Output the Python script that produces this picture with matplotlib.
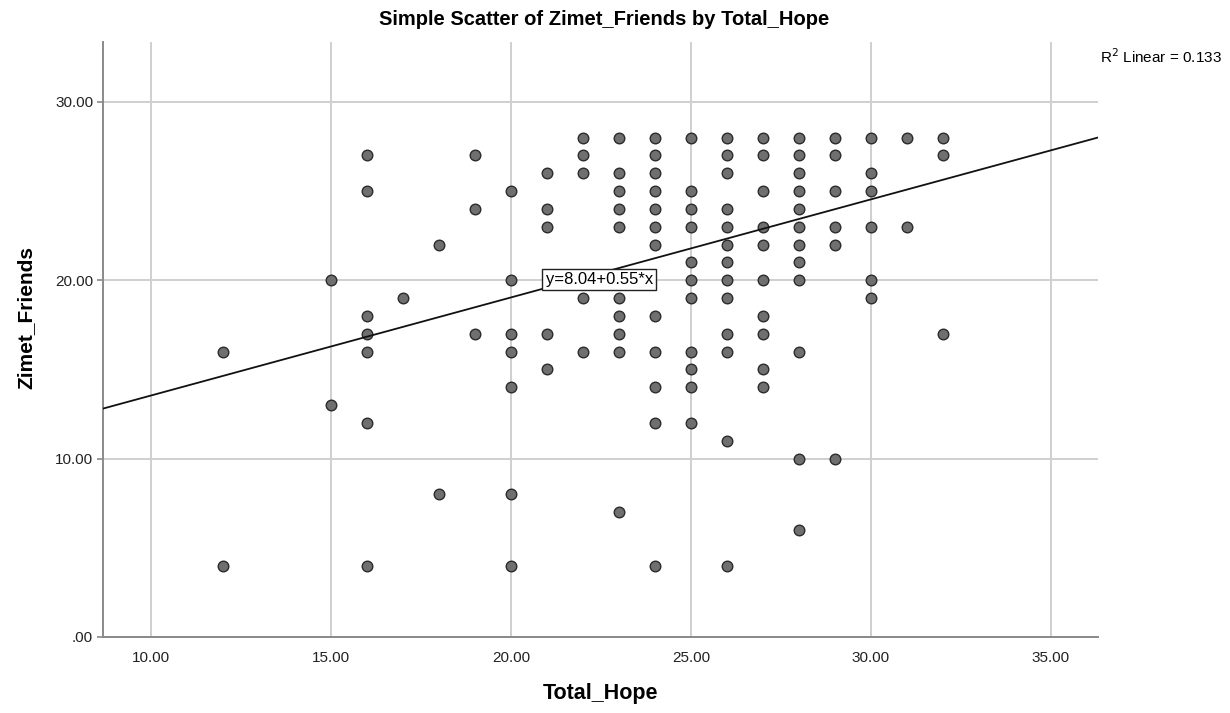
import matplotlib
matplotlib.use("Agg")
import matplotlib.pyplot as plt
import numpy as np

# Total_Hope score -> observed Zimet_Friends scores at that score
hope_values = [12, 15, 16, 17, 18, 19, 20, 21, 22, 23, 24, 25, 26, 27, 28, 29, 30, 31, 32]
friends_by_hope = [
    [16, 4],
    [20, 13],
    [27, 25, 18, 17, 16, 12, 4],
    [19],
    [22, 8],
    [27, 24, 17],
    [25, 20, 17, 16, 14, 8, 4],
    [26, 24, 23, 17, 15],
    [28, 27, 26, 19, 16],
    [28, 26, 25, 24, 23, 19, 18, 17, 16, 7],
    [28, 27, 26, 25, 24, 23, 22, 18, 16, 14, 12, 4],
    [28, 25, 24, 23, 21, 20, 19, 16, 15, 14, 12],
    [28, 27, 26, 24, 23, 22, 21, 20, 19, 17, 16, 11, 4],
    [28, 27, 25, 23, 22, 20, 18, 17, 15, 14],
    [28, 27, 26, 25, 24, 23, 22, 21, 20, 16, 10, 6],
    [28, 27, 25, 23, 22, 10],
    [28, 26, 25, 23, 20, 19],
    [28, 23],
    [28, 27, 17],
]

# fit line as reported
intercept = 8.04
slope = 0.55
r_squared = 0.133

x_ticks = [10, 15, 20, 25, 30, 35]
y_ticks = [0, 10, 20, 30]

xs = [h for h, ys in zip(hope_values, friends_by_hope) for _ in ys]
ys = [y for ys_ in friends_by_hope for y in ys_]

plt.rcParams["font.family"] = ["Liberation Sans", "DejaVu Sans"]

fig = plt.figure(figsize=(12.3, 7.13), dpi=100)
ax = fig.add_axes([0.0837, 0.1066, 0.809, 0.8344])

xlim = (8.667, 36.306)
ax.set_xlim(*xlim)
ax.set_ylim(0, 33.36)

ax.set_xticks(x_ticks)
ax.set_yticks(y_ticks)
ax.set_xticklabels([f"{v:.2f}" for v in x_ticks])
ax.set_yticklabels([".00" if v == 0 else f"{v:.2f}" for v in y_ticks])
ax.grid(True, color="#cfcfcf", linewidth=1.4, zorder=0)
ax.set_axisbelow(True)

for side in ("top", "right"):
    ax.spines[side].set_visible(False)
for side in ("left", "bottom"):
    ax.spines[side].set_color("#8a8a8a")
    ax.spines[side].set_linewidth(1.4)

ax.tick_params(axis="x", length=0, pad=10, labelsize=11, colors="#222222")
ax.tick_params(axis="y", length=4, width=1.2, color="#8a8a8a", pad=3,
               labelsize=11, labelcolor="#222222")

ax.scatter(xs, ys, s=58, facecolor="#6f6f6f", edgecolor="#2b2b2b",
           linewidths=1.0, zorder=3)

lx = np.array(xlim)
ax.plot(lx, intercept + slope * lx, color="#111111", linewidth=1.3, zorder=4)

ax.text(22.45, 20.05, f"y={intercept:.2f}+{slope:.2f}*x", fontsize=12,
        ha="center", va="center", zorder=5,
        bbox=dict(boxstyle="square,pad=0.2", facecolor="white",
                  edgecolor="#222222", linewidth=1.0))

fig.text(0.491, 0.973, "Simple Scatter of Zimet_Friends by Total_Hope",
         ha="center", va="center", fontsize=14.5, fontweight="bold")
fig.text(0.488, 0.028, "Total_Hope", ha="center", va="center",
         fontsize=15.5, fontweight="bold")
fig.text(0.021, 0.555, "Zimet_Friends", ha="center", va="center",
         rotation=90, fontsize=15, fontweight="bold")
fig.text(0.9935, 0.921, f"R$^2$ Linear = {r_squared:.3f}", ha="right",
         va="center", fontsize=11)

fig.savefig("out.png", dpi=100)
